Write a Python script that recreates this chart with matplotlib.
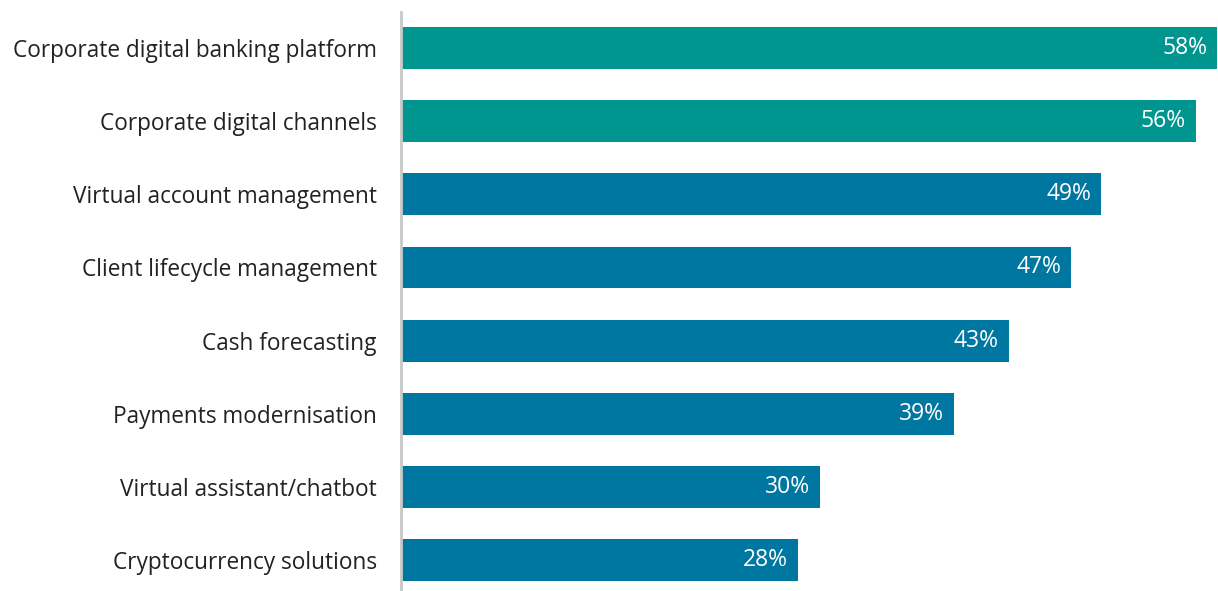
import numpy as np
import matplotlib.pyplot as plt

plt.rcParams['font.family'] = ['Open Sans', 'DejaVu Sans']

categories = ['Corporate digital banking platform', 'Corporate digital channels',
              'Virtual account management', 'Client lifecycle management',
              'Cash forecasting', 'Payments modernisation',
              'Virtual assistant/chatbot', 'Cryptocurrency solutions']
values = [57.6, 56.1, 49.4, 47.3, 42.9, 39.0, 29.6, 28.0]
labels = ['58%', '56%', '49%', '47%', '43%', '39%', '30%', '28%']

teal = '#00968F'
blue = '#0077A0'
colors = [teal, teal] + [blue] * 6

fig = plt.figure(figsize=(12.18, 5.91), dpi=100)
ax = fig.add_axes([401/1218, 0.0, 816/1218, 579/591])

y = np.arange(len(categories))
ax.barh(y, values, height=0.57, color=colors)

for yi, v, lab in zip(y, values, labels):
    ax.text(v - 0.7, yi, lab, ha='right', va='center', color='white', fontsize=16.5)

ax.set_xlim(0, 57.6)
ax.set_ylim(7.42, -0.49)
ax.set_yticks(y)
ax.set_yticklabels(categories, fontsize=16.3, color='#222222')
ax.tick_params(axis='y', length=0, pad=17.5)
ax.set_xticks([])
for s in ['top', 'right', 'bottom']:
    ax.spines[s].set_visible(False)
ax.spines['left'].set_color('#C8C8C8')
ax.spines['left'].set_linewidth(2)

fig.savefig('out.png', dpi=100)
